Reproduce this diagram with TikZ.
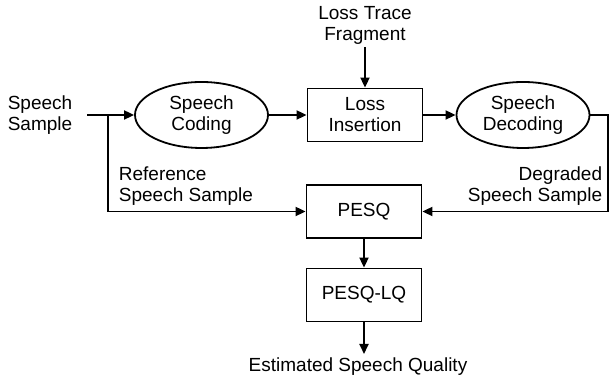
\documentclass[tikz,border=0pt]{standalone}
\usepackage{fontspec}
\setmainfont{Liberation Sans}
\usetikzlibrary{arrows.meta,positioning,shapes.geometric}

\begin{document}
\begin{tikzpicture}[x=0.5pt, y=-0.5pt, >={Triangle[length=5pt,width=4.5pt]}, line width=0.9pt,
  font=\fontsize{9.5}{10.5}\selectfont,
  blk/.style={draw, rectangle, align=center, minimum width=57.5pt, minimum height=26.5pt, inner sep=1pt},
  ell/.style={draw, ellipse, align=center, minimum width=66.5pt, minimum height=33pt, inner sep=0pt},
  lbl/.style={align=center, inner sep=1pt}]
  \useasboundingbox (0,0) rectangle (610,383);
  % upper chain
  \node[lbl] (in) at (40,115) {Speech\\Sample};
  \node[ell] (coding) at (201.5,115) {Speech\\Coding};
  \node[blk] (loss) at (365,115) {Loss\\Insertion};
  \node[ell] (decoding) at (523,115) {Speech\\Decoding};
  \node[lbl] (trace) at (365,25) {Loss Trace\\Fragment};
  % lower chain
  \node[blk] (pesq) at (364,211.5) {PESQ};
  \node[blk] (lq) at (364,295) {PESQ-LQ};
  \node[lbl] (qual) at (358,367) {Estimated Speech Quality};
  \node[lbl, align=left, anchor=west] (ref) at (116,186) {Reference\\Speech Sample};
  \node[lbl, align=right, anchor=east] (deg) at (605,186) {Degraded\\Speech Sample};
  \coordinate (split) at (108,115);
  \coordinate (turn) at (608,115);
  \coordinate (out) at (364,354);
  \draw[->] ([xshift=6pt]in.east) -- (coding.west);
  \draw[->] (coding) -- (loss);
  \draw[->] (loss) -- (decoding);
  \draw[->] (trace) -- (loss);
  \draw[->] (split) |- (pesq.west);
  \draw[->] (decoding.east) -- (turn) |- (pesq.east);
  \draw[->] (pesq) -- (lq);
  \draw[->] (lq) -- (out);
\end{tikzpicture}
\end{document}
